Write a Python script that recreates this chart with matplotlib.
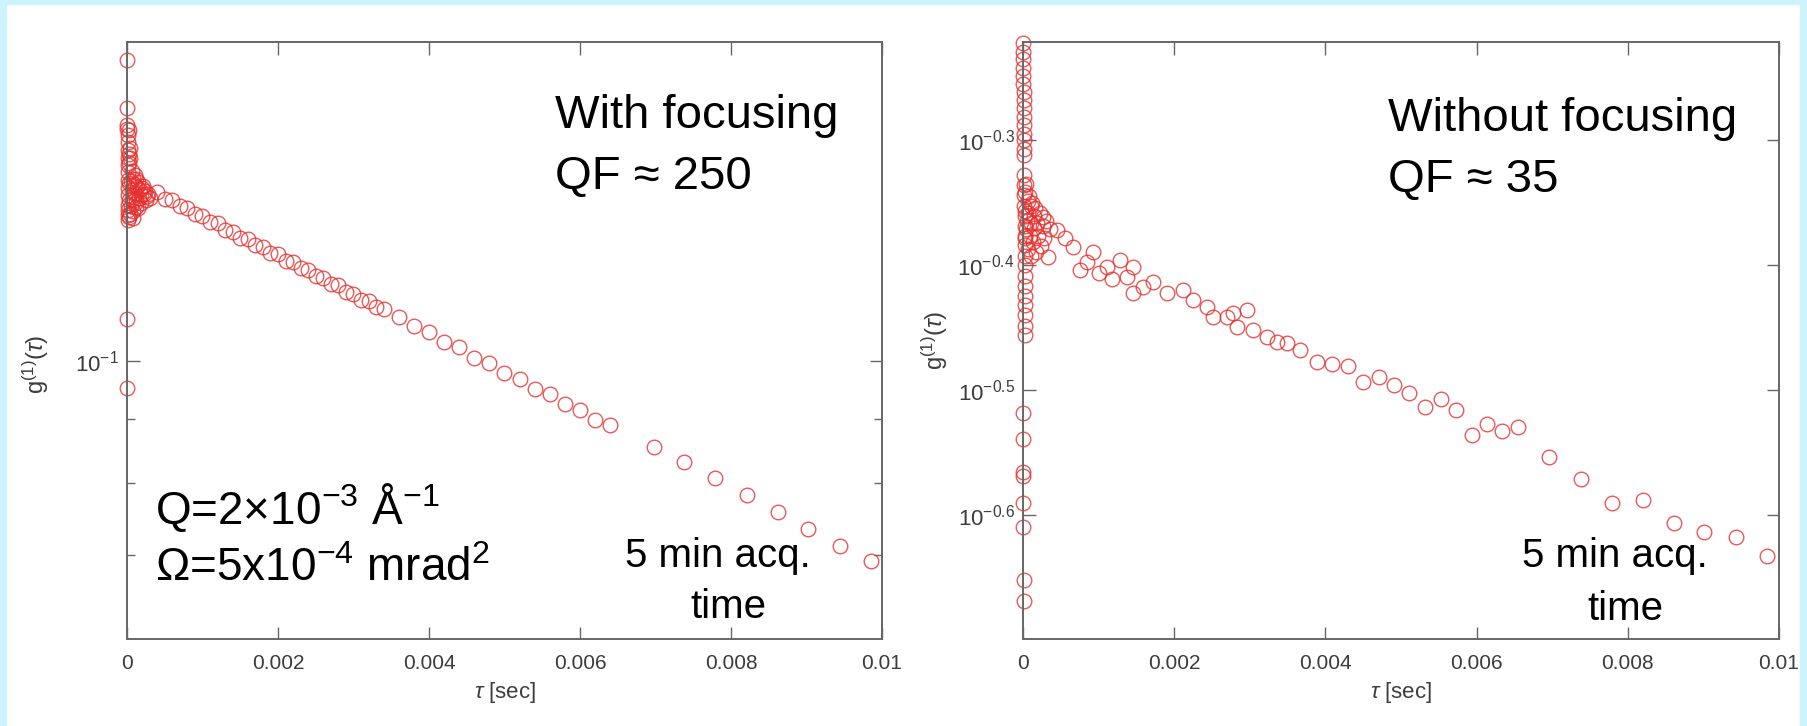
import matplotlib
matplotlib.use("Agg")
import matplotlib.pyplot as plt
from matplotlib.patches import Rectangle
from matplotlib.ticker import FixedLocator, FixedFormatter, NullFormatter, NullLocator

plt.rcParams['font.family'] = ['Liberation Sans', 'DejaVu Sans']
plt.rcParams['mathtext.fontset'] = 'custom'
plt.rcParams['mathtext.rm'] = 'Liberation Sans'
plt.rcParams['mathtext.it'] = 'Liberation Sans:italic'

# ---- data ----
# with focusing (left panel)
tau_foc = [0.000001, 0.000002, 0.000003, 0.000004, 0.000005, 0.000006, 0.000007, 0.000008,
           0.000009, 0.00001, 0.000011, 0.000012, 0.000013, 0.000014, 0.000015, 0.000016,
           0.000017, 0.000018, 0.000019, 0.00002, 0.000022, 0.000024, 0.000026, 0.000028,
           0.00003, 0.00004, 0.00005, 0.00006, 0.00007, 0.00008, 0.00009, 0.0001, 0.00011,
           0.00012, 0.00013, 0.00014, 0.00015, 0.00016, 0.00017, 0.00018, 0.0002, 0.00022,
           0.00024, 0.00026, 0.00028, 0.0003,
           0.000035, 0.000045, 0.000055, 0.000065, 0.000075, 0.000085, 0.000095, 0.000105,
           0.000115, 0.000125, 0.00019, 0.00021, 0.00025,
           0.0004, 0.0005, 0.0006, 0.0007, 0.0008, 0.0009, 0.0010, 0.0011, 0.0012, 0.0013,
           0.0014, 0.0015, 0.0016, 0.0017, 0.0018, 0.0019, 0.0020, 0.0021, 0.0022, 0.0023,
           0.0024, 0.0025, 0.0026, 0.0027, 0.0028, 0.0029, 0.0030, 0.0031, 0.0032, 0.0033,
           0.0034,
           0.0036, 0.0038, 0.0040, 0.0042, 0.0044, 0.0046, 0.0048, 0.0050, 0.0052, 0.0054,
           0.0056, 0.0058, 0.0060, 0.0062, 0.0064,
           0.00698, 0.00738, 0.00779, 0.00821, 0.00862, 0.00902, 0.00944, 0.00985]
g1_foc = [0.1741, 0.1594, 0.1545, 0.1081, 0.0953, 0.1534, 0.1517, 0.1497,
          0.1475, 0.1454, 0.1435, 0.1298, 0.1417, 0.1310, 0.1396, 0.1376,
          0.1333, 0.1358, 0.1321, 0.1346, 0.1530, 0.1465, 0.1388, 0.1305,
          0.1440, 0.1312, 0.1395, 0.1348, 0.1420, 0.1302, 0.1385, 0.1360, 0.1410,
          0.1340, 0.1378, 0.1325, 0.1392, 0.1352, 0.1370, 0.1338, 0.1375, 0.1362,
          0.1368, 0.1355, 0.1360, 0.1350,
          0.1480, 0.1455, 0.1330, 0.1372, 0.1318, 0.1400, 0.1345, 0.1382,
          0.1328, 0.1398, 0.1358, 0.1380, 0.1345,
          0.1365, 0.1349, 0.1345, 0.1330, 0.1326, 0.1311, 0.1308, 0.1293, 0.1289, 0.1274,
          0.1270, 0.1256, 0.1253, 0.1238, 0.1235, 0.1221, 0.1218, 0.1203, 0.1200, 0.1187,
          0.1183, 0.1170, 0.1166, 0.1153, 0.1150, 0.1137, 0.1133, 0.1120, 0.1117, 0.1105,
          0.1101,
          0.1086, 0.1067, 0.1055, 0.1036, 0.1026, 0.1007, 0.0997, 0.0979, 0.0969, 0.0951,
          0.0942, 0.0924, 0.0915, 0.0898, 0.0889,
          0.0854, 0.0831, 0.0807, 0.0782, 0.0758, 0.0734, 0.0712, 0.0692]

# without focusing (right panel)
tau_nofoc = [0.000001, 0.000002, 0.000003, 0.000004, 0.000005, 0.000006, 0.000007, 0.000008,
             0.000009, 0.00001, 0.000011, 0.000012, 0.000013, 0.000014, 0.000015, 0.000016,
             0.000017, 0.000018, 0.000019, 0.00002, 0.000021, 0.000022, 0.000023, 0.000024,
             0.000025, 0.000026, 0.000027, 0.000028, 0.000029, 0.00003, 0.000031, 0.000032,
             0.000001, 0.000002, 0.000003, 0.000004, 0.000005, 0.000006, 0.000007, 0.000008,
             0.00002, 0.00002, 0.00003, 0.00004, 0.00004, 0.00005, 0.00006, 0.00006, 0.00007,
             0.00008, 0.00009, 0.0001, 0.0001, 0.00011, 0.00012, 0.00013, 0.00014, 0.00015,
             0.00016, 0.00017, 0.00018, 0.0002, 0.00022, 0.00024, 0.00026, 0.00028, 0.0003,
             0.00033, 0.00036,
             0.000265, 0.00045, 0.00055, 0.00066, 0.000754, 0.00085, 0.000926, 0.0010,
             0.00111, 0.00118, 0.00128, 0.00137, 0.00146, 0.00146, 0.00159, 0.00172, 0.00190,
             0.00212, 0.00225, 0.00243, 0.00251, 0.00270, 0.00278, 0.00283, 0.00296, 0.00304,
             0.00323, 0.00336, 0.00349, 0.00366,
             0.00389, 0.00409, 0.00430, 0.00450, 0.00471, 0.00491, 0.00511, 0.00532, 0.00553,
             0.00573, 0.00594, 0.00614, 0.00634, 0.00655,
             0.00696, 0.00738, 0.00779, 0.00820, 0.00861, 0.00901, 0.00943, 0.00984]
g1_nofoc = [0.599, 0.589, 0.581, 0.572, 0.564, 0.555, 0.547, 0.539,
            0.531, 0.523, 0.515, 0.507, 0.501, 0.493, 0.487, 0.470,
            0.461, 0.453, 0.444, 0.436, 0.428, 0.420, 0.413, 0.405,
            0.398, 0.390, 0.383, 0.376, 0.370, 0.363, 0.356, 0.350,
            0.303, 0.289, 0.272, 0.270, 0.257, 0.246, 0.223, 0.2145,
            0.455, 0.418, 0.440, 0.462, 0.425, 0.432, 0.448, 0.410, 0.438,
            0.452, 0.420, 0.444, 0.405, 0.430, 0.446, 0.415, 0.436, 0.426,
            0.442, 0.408, 0.430, 0.420, 0.438, 0.412, 0.428, 0.418, 0.432,
            0.404, 0.425,
            0.4346, 0.4243, 0.4180, 0.4113, 0.3942, 0.4000, 0.4075, 0.3920,
            0.3964, 0.3880, 0.4015, 0.3890, 0.3964, 0.3778, 0.3820, 0.3855, 0.3778,
            0.3799, 0.3729, 0.3681, 0.3615, 0.3615, 0.3641, 0.3548, 0.3661, 0.3529,
            0.3484, 0.3452, 0.3446, 0.3401,
            0.3327, 0.3315, 0.3303, 0.3207, 0.3237, 0.3190, 0.3143, 0.3063, 0.3108,
            0.3046, 0.2913, 0.2968, 0.2935, 0.2952,
            0.2798, 0.2686, 0.2570, 0.2585, 0.2474, 0.2437, 0.2414, 0.2331]

x_ticks = [0, 0.002, 0.004, 0.006, 0.008, 0.01]
x_ticklabels = ['0', '0.002', '0.004', '0.006', '0.008', '0.01']
nofoc_yticks = [10 ** -0.3, 10 ** -0.4, 10 ** -0.5, 10 ** -0.6]
nofoc_yticklabels = [r'$10^{-0.3}$', r'$10^{-0.4}$', r'$10^{-0.5}$', r'$10^{-0.6}$']

W, H = 1808, 726
fig = plt.figure(figsize=(W / 100, H / 100), dpi=100)
fig.patch.set_facecolor('white')

# light cyan frame around the slide
cyan = '#cdf3fd'
fig.patches.append(Rectangle((0, 0), 6 / W, 1, transform=fig.transFigure, color=cyan, zorder=0))
fig.patches.append(Rectangle((1800 / W, 0), 8 / W, 1, transform=fig.transFigure, color=cyan, zorder=0))
fig.patches.append(Rectangle((0, 1 - 4 / H), 1, 4 / H, transform=fig.transFigure, color=cyan, zorder=0))


def px_axes(x0, x1, y0, y1):
    return fig.add_axes([x0 / W, 1 - y1 / H, (x1 - x0) / W, (y1 - y0) / H])


ax1 = px_axes(127, 882, 42, 639)
ax2 = px_axes(1023, 1779, 42, 639)

mcol = '#e5302f'
for ax, t, g in [(ax1, tau_foc, g1_foc), (ax2, tau_nofoc, g1_nofoc)]:
    ax.plot(t, g, linestyle='none', marker='o', mfc='none', mec=mcol, ms=10.5, mew=1.0,
            alpha=0.8, clip_on=False)
    ax.set_yscale('log')
    ax.set_xlim(0, 0.01)
    ax.set_xticks(x_ticks)
    ax.set_xticklabels(x_ticklabels)
    for s in ax.spines.values():
        s.set_color('#666666')
        s.set_linewidth(1.4)
    ax.tick_params(which='both', direction='in', top=True, right=True, color='#666666',
                   labelcolor='#3c3c3c', labelsize=15)
    ax.tick_params(axis='x', pad=11)
    ax.tick_params(axis='y', labelsize=16, pad=6)
    ax.tick_params(which='major', length=9, width=1)
    ax.tick_params(which='minor', length=6, width=1)
    ax.set_xlabel(r'$\tau$ [sec]', fontsize=16, color='#3c3c3c')
    ax.xaxis.set_label_coords(0.5, -0.068)
    ax.xaxis.label.set_va('top')
    ax.set_ylabel(r'$\mathrm{g}^{(1)}(\tau)$', fontsize=17, color='#3c3c3c')

ax1.set_ylim(0.06, 0.18)
ax1.yaxis.set_major_locator(FixedLocator([0.1]))
ax1.yaxis.set_major_formatter(FixedFormatter([r'$10^{-1}$']))
ax1.yaxis.set_minor_locator(FixedLocator([0.07, 0.08, 0.09]))
ax1.yaxis.set_minor_formatter(NullFormatter())
ax1.yaxis.set_label_coords(-0.1, 0.46)

ax2.set_ylim(0.2, 0.6)
ax2.yaxis.set_major_locator(FixedLocator(nofoc_yticks))
ax2.yaxis.set_major_formatter(FixedFormatter(nofoc_yticklabels))
ax2.yaxis.set_minor_locator(NullLocator())
ax2.yaxis.set_label_coords(-0.097, 0.5)


def ptext(x, y, s, size=34, ha='left'):
    fig.text(x / W, 1 - y / H, s, fontsize=size, ha=ha, va='baseline', color='black')


ptext(555, 128, 'With focusing')
ptext(555, 189, 'QF \u2248 250')
ptext(155, 524, 'Q=2$\\times$10$^{\\mathrm{-3}}$ \u00c5$^{\\mathrm{-1}}$', size=33)
ptext(155, 581, '\u03a9=5x10$^{\\mathrm{-4}}$ mrad$^{2}$', size=33)
ptext(625, 567, '5 min acq.', size=29)
ptext(728, 618, 'time', size=29, ha='center')

ptext(1388, 131, 'Without focusing')
ptext(1388, 192, 'QF \u2248 35')
ptext(1522, 567, '5 min acq.', size=29)
ptext(1625, 620, 'time', size=29, ha='center')

fig.savefig('out.png', dpi=100, facecolor=fig.get_facecolor())
